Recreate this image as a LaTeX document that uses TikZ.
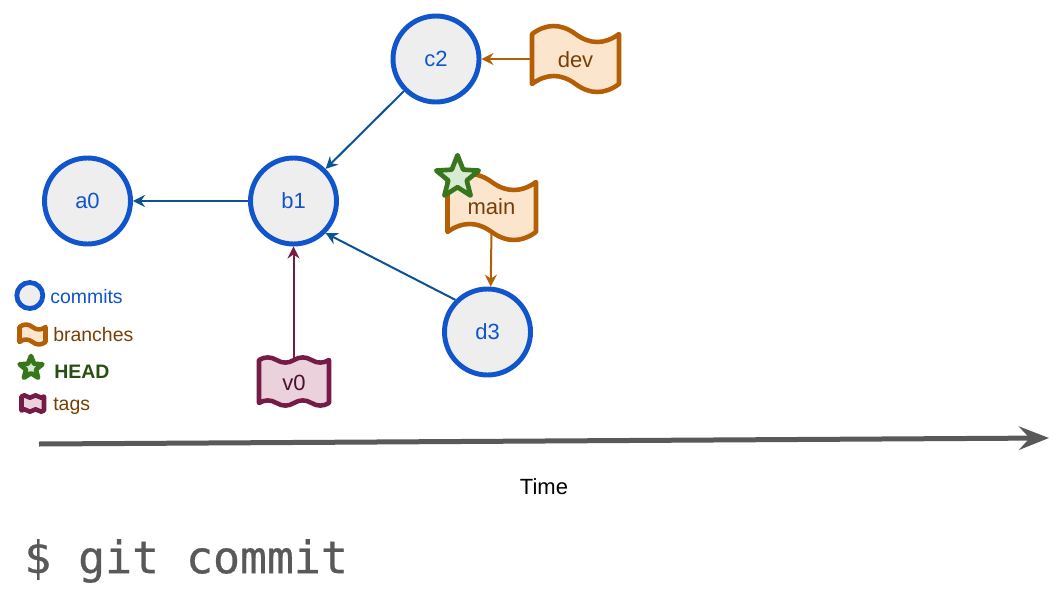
\documentclass[tikz,border=0pt]{standalone}
\usepackage{fontspec}
\setmainfont{Liberation Sans}
\newfontfamily\codefont[RawFeature={embolden=0.6}]{DejaVu Sans Mono}
\usetikzlibrary{arrows.meta,shapes.geometric}
\definecolor{cblue}{HTML}{1155CC}
\definecolor{cfill}{HTML}{EEEEEE}
\definecolor{eblue}{HTML}{0B5394}
\definecolor{bstroke}{HTML}{B45F06}
\definecolor{bfill}{HTML}{FCE5CD}
\definecolor{btext}{HTML}{783F04}
\definecolor{tstroke}{HTML}{741B47}
\definecolor{tfill}{HTML}{EAD1DC}
\definecolor{ttext}{HTML}{4C1130}
\definecolor{hstroke}{HTML}{38761D}
\definecolor{hfill}{HTML}{D9EAD3}
\definecolor{htext}{HTML}{274E13}
\definecolor{gline}{HTML}{595959}
\tikzset{
  x=0.75pt,y=-0.75pt,
  commit/.style={circle,draw=cblue,fill=cfill,line width=3.7pt,minimum size=64.5pt,inner sep=0pt,outer sep=1.85pt,text=cblue,font=\fontsize{16.5}{18}\selectfont},
  legcommit/.style={circle,draw=cblue,fill=cfill,line width=3.6pt,minimum size=19.5pt,inner sep=0pt},
  branchshape/.style={draw=bstroke,fill=bfill,line width=3.4pt,line join=round},
  tagshape/.style={draw=tstroke,fill=tfill,line width=3.4pt,line join=round},
  flagtext/.style={inner sep=0pt,outer sep=0pt,font=\fontsize{16.5}{18}\selectfont},
  headstar/.style={star,star points=5,star point ratio=2.3,draw=hstroke,fill=hfill,line width=3.5pt,line join=round,inner sep=0pt},
  legend/.style={anchor=west,inner sep=0pt,font=\fontsize{14.6}{16}\selectfont},
  commitedge/.style={draw=eblue,line width=1.5pt,-{Stealth[inset=3pt,length=9pt,width=9pt]}},
  branchedge/.style={draw=bstroke,line width=1.5pt,-{Stealth[inset=3pt,length=9pt,width=9pt]}},
  tagedge/.style={draw=tstroke,line width=1.5pt,-{Stealth[inset=3pt,length=9pt,width=9pt]}},
  timeedge/.style={draw=gline,line width=3.75pt,-{Stealth[inset=8pt,length=22.5pt,width=17.5pt]}},
}
\newcommand\wflag[7]{%
  \pgfmathsetmacro\hw{(#4-#3)/2}\pgfmathsetmacro\cx{\hw/3}%
  \pgfmathsetmacro\off{4/3*#7}%
  \path[#1] (#3,#5)
    .. controls +(\cx,-\off) and +(-\cx,-\off) .. ++(\hw,0)
    .. controls +(\cx,\off) and +(-\cx,\off) .. ++(\hw,0)
    -- (#4,#6)
    .. controls +(-\cx,\off) and +(\cx,\off) .. ++(-\hw,0)
    .. controls +(-\cx,-\off) and +(\cx,-\off) .. ++(-\hw,0)
    -- cycle;}
\newcommand\dflag[7]{%
  \pgfmathsetmacro\hw{(#4-#3)/4}\pgfmathsetmacro\cx{\hw/3}%
  \pgfmathsetmacro\off{4/3*#7}%
  \path[#1] (#3,#5)
    .. controls +(\cx,-\off) and +(-\cx,-\off) .. ++(\hw,0)
    .. controls +(\cx,\off) and +(-\cx,\off) .. ++(\hw,0)
    .. controls +(\cx,-\off) and +(-\cx,-\off) .. ++(\hw,0)
    .. controls +(\cx,\off) and +(-\cx,\off) .. ++(\hw,0)
    -- (#4,#6)
    .. controls +(-\cx,\off) and +(\cx,\off) .. ++(-\hw,0)
    .. controls +(-\cx,-\off) and +(\cx,-\off) .. ++(-\hw,0)
    .. controls +(-\cx,\off) and +(\cx,\off) .. ++(-\hw,0)
    .. controls +(-\cx,-\off) and +(\cx,-\off) .. ++(-\hw,0)
    -- cycle;}
\begin{document}
\begin{tikzpicture}
\useasboundingbox (0,0) rectangle (1059,589);
% commits
\node[commit] (a0) at (87.5,201) {a0};
\node[commit] (b1) at (293.5,201) {b1};
\node[commit] (c2) at (436,59) {c2};
\node[commit] (d3) at (487.5,332) {d3};
% flags
\wflag{branchshape}{}{532}{619}{34}{84}{8}
\node[flagtext,text=btext,minimum width=65.25pt,minimum height=37.5pt] (dev) at (575.5,59.5) {dev};
\wflag{branchshape}{}{447.5}{536}{182}{232}{8}
\node[flagtext,text=btext,minimum width=66pt,minimum height=37.5pt] (main) at (491.5,207) {main};
\dflag{tagshape}{}{259}{329}{360}{403}{2.6}
\node[flagtext,text=ttext,minimum width=52.5pt,minimum height=32pt] (v0) at (294,382.5) {v0};
\node[headstar,minimum size=33.5pt] (head) at (457.5,177.5) {};
% connectors
\draw[commitedge] (b1.west) -- (a0.east);
\draw[commitedge] (c2.south west) -- (b1.north east);
\draw[commitedge] (d3.north west) -- (b1.south east);
\draw[branchedge] (dev.west |- c2.east) -- (c2.east);
\draw[branchedge] (main.south) -- (d3.86);
\draw[tagedge] (v0.north -| b1.south) -- (b1.south);
% legend
\node[legcommit] (lc) at (29.8,295.5) {};
\node[legend,text=cblue] (lct) at (50,296.5) {commits};
\wflag{branchshape}{}{19.5}{45.5}{327}{342}{2.5}
\node[legend,text=btext] (lbt) at (53,335) {branches};
\node[headstar,minimum size=18pt] (lh) at (31,368) {};
\node[legend,text=htext,font=\fontsize{14.6}{16}\selectfont\bfseries] (lht) at (54,372) {HEAD};
\dflag{tagshape}{}{21.5}{44}{396.5}{410.5}{1.2}
\node[legend,text=btext] (ltt) at (53,406) {tags};
% time
\coordinate (ts) at (39,444);
\coordinate (te) at (1049,438);
\draw[timeedge] (ts) -- (te);
\node[inner sep=0pt,font=\fontsize{16.5}{18}\selectfont] (time) at (544,487) {Time};
\node[anchor=west,inner sep=0pt,text=gline,font=\codefont\fontsize{33.6}{36}\selectfont] (cmd) at (24,561) {\$ git commit};
\end{tikzpicture}
\end{document}
